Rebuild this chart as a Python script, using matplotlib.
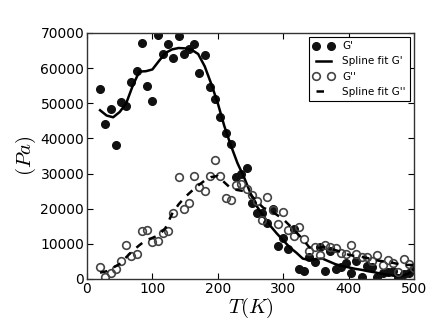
import numpy as np
import matplotlib
matplotlib.use("Agg")
import matplotlib.pyplot as plt

plt.rcParams['mathtext.fontset'] = 'cm'
plt.rcParams['font.family'] = ['DejaVu Sans']

# Measured data (temperature grid in K, moduli in Pa)
T_data = list(range(20, 501, 8))
G1 = [54.0, 44.0, 48.3, 38.0, 50.4, 49.2, 55.9, 59.2, 67.1, 54.8,
      50.6, 69.5, 63.9, 66.9, 62.9, 69.0, 63.9, 65.3, 66.8, 58.7,
      63.7, 54.6, 51.1, 46.0, 41.6, 38.4, 29.1, 29.9, 31.7, 21.5,
      18.8, 18.8, 15.8, 19.8, 9.4, 11.8, 8.4, 14.2, 2.8, 2.4,
      6.2, 4.8, 9.2, 2.4, 8.1, 2.8, 3.3, 4.5, 1.6, 5.0,
      0.5, 3.7, 3.3, 0.5, 1.8, 2.0, 2.4, 0.3, 1.4, 1.8, 2.9]
G2 = [3.5, 0.5, 1.8, 2.9, 5.2, 9.7, 6.6, 7.0, 13.7, 13.9,
      10.6, 10.9, 13.2, 13.7, 18.9, 28.9, 19.8, 21.5, 29.4, 26.3,
      25.0, 29.3, 33.9, 29.3, 22.9, 22.5, 26.7, 27.0, 25.5, 24.0,
      22.3, 16.8, 23.4, 19.5, 15.7, 19.1, 13.9, 12.2, 14.7, 11.3,
      8.1, 9.0, 6.8, 9.6, 9.2, 8.7, 7.5, 7.2, 9.8, 7.2,
      6.3, 6.3, 5.0, 6.8, 3.9, 5.4, 4.6, 2.0, 5.8, 4.3, 3.0]

# Spline fits
T_fit = list(range(20, 501, 10))
fit1 = [48.0, 46.5, 46.0, 47.5, 50.0, 55.0, 59.0, 59.1, 59.6, 62.0,
        64.3, 65.3, 65.7, 65.6, 65.2, 64.0, 60.5, 55.5, 50.0, 43.5,
        38.0, 33.0, 29.0, 24.4, 20.6, 17.8, 15.2, 13.0, 11.0, 9.0,
        7.5, 5.8, 5.4, 5.7, 5.8, 5.0, 4.2, 3.7, 3.3, 2.9,
        2.6, 2.2, 1.9, 1.5, 1.2, 0.9, 0.9, 1.4, 2.6]
fit2 = [1.8, 2.2, 3.2, 4.3, 6.2, 8.0, 9.6, 11.0, 11.7, 12.5,
        14.5, 18.5, 21.2, 23.3, 25.0, 26.6, 28.0, 29.0, 29.3, 27.5,
        25.8, 25.3, 25.0, 24.0, 22.0, 20.2, 19.5, 18.3, 17.0, 15.2,
        13.3, 11.3, 9.0, 8.7, 9.1, 8.8, 8.2, 7.6, 6.9, 6.5,
        6.3, 5.9, 5.4, 5.1, 4.9, 4.5, 4.1, 4.0, 4.0]

scale = 1000.0
fig = plt.figure(figsize=(4.36, 3.29), dpi=100)
ax = fig.add_axes([0.1995, 0.152, 0.75, 0.748])

ax.plot(T_data, np.array(G1) * scale, 'o', color='#111111', ms=5.5, mec='#111111',
        label="G'")
ax.plot(T_fit, np.array(fit1) * scale, '-', color='black', lw=1.8, label="Spline fit G'")
ax.plot(T_data, np.array(G2) * scale, 'o', mfc='none', mec='#444444', mew=1.2, ms=5.5,
        label="G''")
ax.plot(T_fit, np.array(fit2) * scale, '--', color='black', lw=1.8, dashes=(3, 3),
        label="Spline fit G''")

ax.set_xlim(0, 500)
ax.set_ylim(0, 70000)
ax.set_xticks([0, 100, 200, 300, 400, 500])
ax.set_yticks(range(0, 70001, 10000))
ax.tick_params(direction='in', top=True, right=True, length=4, width=0.8,
               labelsize=10, pad=2)
for s in ax.spines.values():
    s.set_color('#333333')
    s.set_linewidth(1.0)

ax.set_xlabel('$T(K)$', fontsize=15, labelpad=0)
ax.set_ylabel('$(Pa)$', fontsize=15, labelpad=2)

leg = ax.legend(loc='upper right', numpoints=2, fontsize=7.5, fancybox=False,
                framealpha=1, edgecolor='black', handlelength=2.0,
                borderaxespad=0.4, labelspacing=0.5)
leg.get_frame().set_linewidth(0.8)

fig.savefig('out.png', dpi=100)
